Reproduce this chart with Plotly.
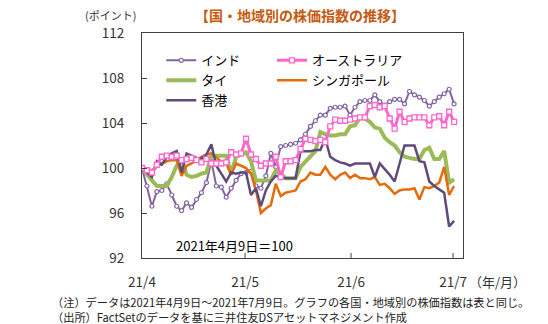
import plotly.graph_objects as go

# ---- data (index = trading day from 2021-04-09 to 2021-07-09) ----
india = [100.0, 98.4, 96.6, 97.9, 98.0, 98.6, 97.6, 96.6, 96.2, 96.9,
         96.5, 97.2, 97.8, 98.7, 100.6, 98.4, 98.3, 97.4, 98.2, 98.9,
         99.5, 99.6, 99.7, 98.4, 98.2, 99.3, 101.3, 100.1, 101.9, 102.0,
         102.1, 102.2, 102.5, 103.0, 103.7, 104.2, 104.7, 104.7, 105.3, 105.4,
         105.4, 105.5, 104.7, 105.4, 105.9, 106.0, 106.0, 106.5, 105.9, 105.6,
         105.9, 106.1, 106.1, 105.7, 106.8, 106.5, 106.3, 106.0, 105.5, 105.9,
         106.3, 106.6, 107.0, 105.7]
australia = [100.0, 99.8, 99.6, 100.3, 101.0, 101.1, 101.0, 101.1, 100.7, 100.8,
             100.9, 100.7, 100.5, 100.8, 100.4, 100.4, 100.4, 100.5, 101.4, 101.2,
             101.3, 102.6, 101.2, 100.8, 100.2, 100.4, 100.4, 101.0, 99.2, 100.6,
             100.6, 100.7, 101.7, 102.6, 102.5, 102.4, 102.5, 102.3, 103.7, 104.3,
             104.2, 104.2, 104.3, 104.4, 104.5, 104.5, 105.5, 105.6, 105.4, 105.5,
             104.4, 103.5, 105.0, 104.1, 104.4, 104.5, 104.5, 104.5, 103.8, 104.5,
             104.6, 103.8, 105.0, 104.1]
thailand = [100.0, 99.4, 98.9, 98.4, 98.4, 98.4, 99.2, 100.2, 100.8, 99.4,
            99.2, 99.3, 99.5, 99.6, 101.1, 101.1, 101.1, 101.1, 99.5, 101.0,
            101.2, 101.4, 100.6, 98.9, 98.9, 98.9, 98.9, 99.8, 99.4, 99.1,
            99.1, 99.1, 100.1, 100.6, 101.1, 101.5, 103.2, 103.0, 102.9, 102.9,
            103.0, 103.0, 103.7, 103.8, 104.5, 104.4, 104.1, 103.6, 103.5, 102.7,
            102.3, 102.0, 101.4, 101.0, 100.9, 100.8, 100.8, 101.6, 101.8, 100.8,
            100.8, 101.5, 98.7, 99.0]
singapore = [100.0, 99.9, 99.8, 100.1, 100.4, 100.6, 100.7, 100.7, 99.3, 100.2,
             100.4, 100.7, 101.0, 101.2, 101.3, 100.9, 100.6, 100.4, 99.4, 100.4,
             100.2, 100.0, 99.5, 98.0, 96.0, 96.4, 96.7, 98.6, 97.5, 97.8,
             97.9, 98.0, 98.8, 99.0, 99.6, 99.4, 99.4, 100.1, 99.4, 99.0,
             99.4, 99.6, 99.1, 99.4, 99.1, 99.1, 99.0, 99.2, 98.5, 98.6,
             98.2, 97.7, 98.0, 98.1, 98.1, 98.2, 97.2, 98.3, 98.2, 98.4,
             98.7, 100.1, 97.6, 98.4]
hongkong = [100.0, 99.6, 99.2, 100.6, 100.3, 101.0, 101.3, 101.5, 99.6, 101.3,
            101.1, 100.9, 100.8, 101.2, 102.1, 100.2, 99.5, 98.8, 99.6, 99.5,
            99.6, 99.6, 97.6, 98.2, 96.6, 98.0, 98.8, 99.3, 99.2, 99.1,
            99.1, 99.1, 101.5, 101.5, 101.5, 101.6, 101.6, 102.6, 101.0, 100.7,
            100.5, 100.4, 100.2, 100.4, 100.4, 100.4, 100.4, 99.2, 100.4, 99.9,
            99.4, 98.8, 100.4, 102.0, 102.0, 102.0, 100.6, 100.5, 98.8, 98.4,
            98.1, 97.8, 94.8, 95.3]

tick_pos = [0, 20.8, 42.2, 62.8]
tick_text = ["21/4", "21/5", "21/6", "21/7"]
y_ticks = [92, 96, 100, 104, 108, 112]

x = list(range(len(india)))

fig = go.Figure()
fig.add_trace(go.Scatter(
    x=x, y=india, name="インド", mode="lines+markers",
    line=dict(color="#8064A2", width=2),
    marker=dict(symbol="circle", size=4, color="white", line=dict(color="#8064A2", width=1.2)),
    legend="legend", legendgroup="a"))
fig.add_trace(go.Scatter(
    x=x, y=thailand, name="タイ", mode="lines",
    line=dict(color="#9BBB59", width=4),
    legend="legend", legendgroup="b"))
fig.add_trace(go.Scatter(
    x=x, y=singapore, name="シンガポール", mode="lines",
    line=dict(color="#E46C0A", width=2.5),
    legend="legend2", legendgroup="d"))
fig.add_trace(go.Scatter(
    x=x, y=hongkong, name="香港", mode="lines",
    line=dict(color="#604A7B", width=2.5),
    legend="legend", legendgroup="c"))
fig.add_trace(go.Scatter(
    x=x, y=australia, name="オーストラリア", mode="lines+markers",
    line=dict(color="#FF66CC", width=3),
    marker=dict(symbol="square", size=5, color="white", line=dict(color="#FF66CC", width=1.3)),
    legend="legend2", legendgroup="e"))

legend_font = dict(family="Noto Sans CJK JP", size=13, color="#000000")
fig.update_layout(
    width=548, height=324,
    margin=dict(l=142, r=85, t=33, b=66),
    paper_bgcolor="white", plot_bgcolor="white",
    font=dict(family="Noto Sans CJK JP", size=13, color="#333333"),
    title=dict(text="<b>【国・地域別の株価指数の推移】</b>", x=300/548, xanchor="center",
               y=1 - 16/324, yanchor="middle",
               font=dict(family="Noto Sans CJK JP", size=14, color="#C55A11")),
    legend=dict(x=0.06, y=0.945, xanchor="left", yanchor="top",
                bgcolor="rgba(0,0,0,0)", tracegroupgap=5, itemwidth=30,
                font=legend_font, traceorder="normal"),
    legend2=dict(x=0.405, y=0.945, xanchor="left", yanchor="top",
                 bgcolor="rgba(0,0,0,0)", tracegroupgap=5, itemwidth=30,
                 font=legend_font, traceorder="reversed"),
    xaxis=dict(range=[0, 64.8], tickvals=tick_pos, ticktext=tick_text,
               showline=True, linecolor="#404040", linewidth=1, mirror=True,
               ticks="outside", ticklen=12, tickcolor="rgba(0,0,0,0)", showgrid=False,
               zeroline=False,
               tickfont=dict(family="Noto Sans CJK JP", size=13.5, color="#333333")),
    yaxis=dict(range=[92, 112], tickvals=y_ticks,
               showline=True, linecolor="#404040", linewidth=1, mirror=True,
               ticks="inside", ticklen=5, tickcolor="#404040", showgrid=False,
               zeroline=False, ticklabelstandoff=14,
               tickfont=dict(family="Noto Sans CJK JP", size=13.5, color="#333333")),
)

# inside tick marks on the x axis (at the same positions as the tick labels)
for tp in tick_pos[1:]:
    fig.add_shape(type="line", xref="x", yref="paper", x0=tp, x1=tp, y0=0, y1=5/225,
                  line=dict(color="#404040", width=1))

fig.add_annotation(text="(ポイント)", xref="paper", yref="paper",
                   x=(110 - 142)/321, y=1 + (33 - 15)/225, xanchor="center", yanchor="middle",
                   showarrow=False, font=dict(size=11, color="#333333"))
fig.add_annotation(text="（年/月）", xref="paper", yref="paper",
                   x=(498 - 142)/321, y=-(281 - 258)/225, xanchor="center", yanchor="middle",
                   showarrow=False, font=dict(size=13, color="#333333"))
fig.add_annotation(text="2021年4月9日＝100", xref="paper", yref="paper",
                   x=(234 - 142)/321, y=(258 - 245)/225, xanchor="center", yanchor="middle",
                   showarrow=False, font=dict(size=13, color="#000000"))
fig.add_annotation(text="（注）データは2021年4月9日～2021年7月9日。グラフの各国・地域別の株価指数は表と同じ。",
                   xref="paper", yref="paper",
                   x=(50 - 142)/321, y=-(302 - 258)/225, xanchor="left", yanchor="middle",
                   showarrow=False, font=dict(size=11.2, color="#222222"))
fig.add_annotation(text="（出所）FactSetのデータを基に三井住友DSアセットマネジメント作成",
                   xref="paper", yref="paper",
                   x=(50 - 142)/321, y=-(317 - 258)/225, xanchor="left", yanchor="middle",
                   showarrow=False, font=dict(size=11.2, color="#222222"))

fig.write_html("out.html")
